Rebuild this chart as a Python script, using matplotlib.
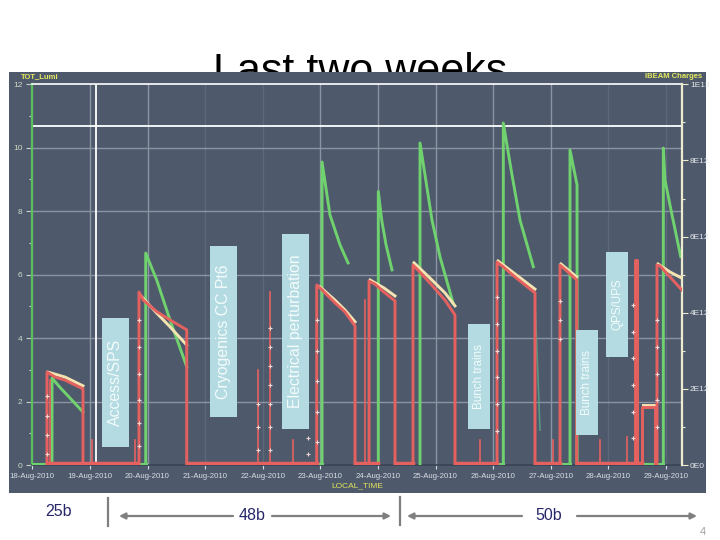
import matplotlib
matplotlib.use('Agg')
import matplotlib.pyplot as plt
from matplotlib.patches import Rectangle, FancyArrowPatch
from matplotlib.lines import Line2D

plt.rcParams['font.family'] = ['Liberation Sans', 'DejaVu Sans']

# ---------------- data ----------------
day_labels = ['18-Aug-2010', '19-Aug-2010', '20-Aug-2010', '21-Aug-2010', '22-Aug-2010',
              '23-Aug-2010', '24-Aug-2010', '25-Aug-2010', '26-Aug-2010', '27-Aug-2010',
              '28-Aug-2010', '29-Aug-2010']
left_ticks = [0, 2, 4, 6, 8, 10, 12]
left_labels = ['0', '2', '4', '6', '8', '10', '12']
right_ticks = [0, 2, 4, 6, 8, 10]          # units of 1E12 charges
right_labels = ['0E0', '2E12', '4E12', '6E12', '8E12', '1E13']

# luminosity (left axis), one list per fill, time in days since 18-Aug 00:00
lumi_t = [[0.342, 0.342, 0.489, 0.655, 0.880],
          [1.969, 1.969, 2.160, 2.391, 2.681],
          [5.030, 5.030, 5.168, 5.342, 5.481],
          [6.007, 6.007, 6.066, 6.141, 6.245],
          [6.731, 6.731, 6.939, 7.078, 7.304],
          [8.177, 8.177, 8.328, 8.467, 8.698],
          [9.335, 9.335, 9.387, 9.457, 9.457],
          [10.955, 10.955, 10.984, 11.106, 11.257]]
lumi_v = [[0, 2.74, 2.43, 2.11, 1.67],
          [0, 6.68, 5.83, 4.57, 3.10],
          [0, 9.55, 7.88, 6.94, 6.37],
          [0, 8.62, 7.72, 6.94, 6.15],
          [0, 10.15, 7.72, 6.56, 5.11],
          [0, 10.78, 9.14, 7.72, 6.25],
          [0, 9.93, 9.46, 8.83, 0],
          [0, 9.99, 8.98, 7.88, 6.57]]
lumi_tail_t = [8.727, 8.814]
lumi_tail_v = [5.20, 1.10]
lumi_base = [(0.012, 0.342), (1.818, 1.969), (4.960, 5.030), (7.998, 8.177),
             (9.214, 9.335), (10.550, 10.955)]

# beam 1 charges (right axis, E12)
b1_t = [[0.255, 0.255, 0.394, 0.568, 0.880, 0.880],
        [1.852, 1.852, 1.927, 2.160, 2.391, 2.681, 2.681],
        [4.938, 4.938, 5.030, 5.255, 5.429, 5.603, 5.603],
        [5.846, 5.846, 5.950, 6.106, 6.297, 6.297],
        [6.609, 6.609, 6.696, 6.904, 7.165, 7.338, 7.338],
        [8.068, 8.068, 8.154, 8.380, 8.727, 8.727],
        [9.161, 9.161, 9.300, 9.451, 9.451],
        [10.464, 10.464, 10.498, 10.498],
        [10.585, 10.585, 10.811, 10.811],
        [10.845, 10.845, 10.898, 11.071, 11.274]]
b1_v = [[0, 2.44, 2.31, 2.23, 2.00, 0],
        [0, 4.54, 4.33, 4.03, 3.81, 3.55, 0],
        [0, 4.73, 4.60, 4.26, 4.02, 3.65, 0],
        [0, 4.83, 4.75, 4.54, 4.31, 0],
        [0, 5.25, 5.12, 4.78, 4.33, 3.94, 0],
        [0, 5.33, 5.23, 4.94, 4.52, 0],
        [0, 5.25, 5.07, 4.86, 0],
        [0, 5.38, 5.38, 0],
        [0, 1.52, 1.52, 0],
        [0, 5.25, 5.23, 4.94, 4.60]]
b1_base = [(0.255, 1.818), (2.681, 4.938), (5.603, 6.000), (6.297, 6.609),
           (7.338, 8.068), (8.727, 9.161), (9.451, 10.585)]
spike_t = [0.307, 1.031, 1.783, 3.918, 4.127, 4.526, 5.776, 7.773, 9.040, 9.855, 10.320]
spike_v = [2.23, 0.66, 0.66, 2.50, 4.54, 0.66, 4.33, 0.66, 0.66, 0.66, 0.74]

# beam 2 charges (right axis, E12)
b2_t = [[0.272, 0.568, 0.880],
        [1.887, 2.160, 2.391, 2.681],
        [4.994, 5.255, 5.429, 5.603],
        [5.864, 6.106, 6.297],
        [6.627, 6.904, 7.165, 7.338],
        [8.085, 8.380, 8.727],
        [9.178, 9.451],
        [10.600, 10.800],
        [10.863, 11.071, 11.274]]
b2_v = [[2.44, 2.31, 2.08],
        [4.44, 3.99, 3.63, 3.15],
        [4.68, 4.33, 4.07, 3.76],
        [4.86, 4.65, 4.44],
        [5.31, 4.91, 4.52, 4.18],
        [5.36, 5.02, 4.62],
        [5.28, 4.94],
        [1.58, 1.58],
        [5.28, 5.07, 4.91]]

# injection markers (right axis, E12)
mark_t = [0.255, 0.255, 0.255, 0.255,
          1.852, 1.852, 1.852, 1.852, 1.852, 1.852,
          3.918, 3.918, 3.918,
          4.127, 4.127, 4.127, 4.127, 4.127, 4.127, 4.127,
          4.786, 4.786,
          4.938, 4.938, 4.938, 4.938, 4.938,
          8.068, 8.068, 8.068, 8.068, 8.068, 8.068,
          9.161, 9.161, 9.161,
          10.430, 10.430, 10.430, 10.430, 10.430, 10.430,
          10.845, 10.845, 10.845, 10.845, 10.845]
mark_v = [0.3, 0.8, 1.3, 1.8,
          0.5, 1.1, 1.7, 2.4, 3.1, 3.8,
          0.4, 1.0, 1.6,
          0.4, 1.0, 1.6, 2.1, 2.6, 3.1, 3.6,
          0.3, 0.7,
          0.6, 1.4, 2.2, 3.0, 3.8,
          0.9, 1.6, 2.3, 3.0, 3.7, 4.4,
          3.3, 3.8, 4.3,
          0.7, 1.4, 2.1, 2.8, 3.5, 4.2,
          1.0, 1.7, 2.4, 3.1, 3.8]

# annotation boxes: label, left px, top px, right px, bottom px, font size
boxes = [('Access/SPS', 102, 318, 129, 447, 11.4),
         ('Cryogenics CC Pt6', 210, 246, 237, 417, 11.4),
         ('Electrical perturbation', 282, 234, 309, 429, 11.4),
         ('Bunch trains', 468, 324, 490, 429, 8.4),
         ('Bunch trains', 576, 330, 598, 435, 8.4),
         ('QPS/UPS', 606, 252, 628, 357, 8.4)]

# ---------------- style ----------------
W, H = 720, 540
panel_col = '#4e5a6c'
green = '#70d26e'
red = '#e5615f'
cream = '#f5e4b2'
grid_light = '#8b94a3'
grid_dark = '#5d697b'
day_grid_col = [None, grid_light, grid_light, grid_dark, grid_dark, grid_light,
                grid_light, grid_light, grid_light, grid_light, grid_dark, grid_dark]

def fx(x):
    return x / W

def fy(y):
    return 1 - y / H

fig = plt.figure(figsize=(7.2, 5.4), dpi=100)
fig.patch.set_facecolor('white')

# title (partly hidden behind the panel)
fig.text(0.5, fy(83), 'Last two weeks', fontsize=31, ha='center', va='baseline',
         color='black', zorder=-2)

# dark panel
fig.add_artist(Rectangle((fx(9), fy(493)), fx(706 - 9), (493 - 72) / H,
                         transform=fig.transFigure, facecolor=panel_col,
                         edgecolor='none', zorder=-1))

ax = fig.add_axes([fx(32.3), fy(465), fx(681.7 - 32.3), (465 - 84.3) / H])
ax.set_facecolor(panel_col)
ax.set_xlim(0, 11.274)
ax.set_ylim(0, 12)

# grid
for k in range(1, 12):
    ax.axvline(k, color=day_grid_col[k], lw=1.0, zorder=1)
for v in [2, 4, 6, 8, 10]:
    ax.axhline(v, color=grid_light, lw=1.0, zorder=1)
# cursor cross-hair
ax.axvline(1.108, color='white', lw=1.3, zorder=1.5)
ax.axhline(10.69, color='white', lw=1.3, zorder=1.5)

# luminosity
for t, v in zip(lumi_t, lumi_v):
    ax.plot(t, v, color=green, lw=2.1, zorder=3, solid_joinstyle='round')
ax.plot(lumi_tail_t, lumi_tail_v, color='#5aa88a', lw=1.2, alpha=0.8, zorder=3)
for a, b in lumi_base:
    ax.plot([a, b], [0.03, 0.03], color=green, lw=2.2, zorder=3)

# spines and ticks (left)
ax.spines['left'].set_color('#5cc05e')
ax.spines['left'].set_linewidth(1.6)
ax.spines['top'].set_color('white')
ax.spines['top'].set_linewidth(1.2)
ax.spines['bottom'].set_color('#3a4454')
ax.spines['bottom'].set_linewidth(1.2)
ax.spines['right'].set_visible(False)
ax.set_yticks(left_ticks)
ax.set_yticklabels(left_labels)
ax.set_yticks([1, 3, 5, 7, 9, 11], minor=True)
ax.tick_params(axis='y', which='major', length=4, width=0.8, color='#c7d3c2',
               labelsize=6, labelcolor='#cfd8c8', pad=3)
ax.tick_params(axis='y', which='minor', length=2, width=0.8, color='#c7d3c2')
ax.set_xticks(list(range(12)))
ax.set_xticklabels(day_labels)
ax.tick_params(axis='x', length=3, width=0.8, color='#d8dde4', labelsize=5.6,
               labelcolor='#d8dde4', pad=3)

# right axis: beam charges
ax2 = ax.twinx()
ax2.set_ylim(0, 10)
ax2.set_xlim(0, 11.274)
for t, v in zip(b2_t, b2_v):
    ax2.plot(t, v, color=cream, lw=2.1, zorder=3, solid_joinstyle='round')
for t, v in zip(b1_t, b1_v):
    ax2.plot(t, v, color=red, lw=2.1, zorder=4, solid_joinstyle='round')
for t, v in zip(spike_t, spike_v):
    ax2.plot([t, t], [0, v], color=red, lw=1.2, zorder=4)
for a, b in b1_base:
    ax2.plot([a, b], [0.04, 0.04], color=red, lw=2.5, zorder=4)
ax2.scatter(mark_t, mark_v, marker='+', s=10, color='#f3d6d6', linewidths=0.8, zorder=5)

for s in ['left', 'top', 'bottom']:
    ax2.spines[s].set_visible(False)
ax2.spines['right'].set_color('#ecebcf')
ax2.spines['right'].set_linewidth(1.6)
ax2.set_yticks(right_ticks)
ax2.set_yticklabels(right_labels)
ax2.set_yticks([1, 3, 5, 7, 9], minor=True)
ax2.tick_params(axis='y', which='major', length=4, width=0.8, color='#ecebcf',
                labelsize=6, labelcolor='#e4e6e8', pad=2)
ax2.tick_params(axis='y', which='minor', length=2, width=0.8, color='#ecebcf')

# axis headers
fig.text(fx(21), fy(77), 'TOT_Lumi', color='#e6e85e', fontsize=5.5,
         fontweight='bold', va='center', ha='left')
fig.text(fx(702), fy(77), 'IBEAM Charges', color='#e6e85e', fontsize=5.5,
         fontweight='bold', va='center', ha='right')
fig.text(fx(357), fy(486), 'LOCAL_TIME', color='#e2e45a', fontsize=6,
         va='center', ha='center')

# annotation boxes
for label, x0, y0, x1, y1, fs in boxes:
    fig.add_artist(Rectangle((fx(x0), fy(y1)), fx(x1 - x0), (y1 - y0) / H,
                             transform=fig.transFigure, facecolor='#b3dbe1',
                             edgecolor='none', zorder=5))
    fig.text(fx((x0 + x1) / 2), fy((y0 + y1) / 2), label, rotation=90,
             ha='center', va='center', fontsize=fs, color='#f4fbfb', zorder=6)

# bottom annotations
navy = '#26266a'
grey = '#7f7f7f'
fig.text(fx(58), fy(512), '25b', fontsize=11.5, color=navy, ha='center', va='center')
fig.text(fx(252), fy(516), '48b', fontsize=11.5, color=navy, ha='center', va='center')
fig.text(fx(549), fy(516), '50b', fontsize=11.5, color=navy, ha='center', va='center')
fig.text(fx(703), fy(532), '4', fontsize=8, color='#a0a0a0', ha='center', va='center')
fig.add_artist(Line2D([fx(108), fx(108)], [fy(498), fy(526)], color=grey, lw=1.6,
                      transform=fig.transFigure))
fig.add_artist(Line2D([fx(400), fx(400)], [fy(497), fy(525)], color=grey, lw=1.6,
                      transform=fig.transFigure))
for (xa, xb) in [(233, 119), (272, 391), (522, 407), (577, 697)]:
    fig.add_artist(FancyArrowPatch((fx(xa), fy(516)), (fx(xb), fy(516)),
                                   transform=fig.transFigure, arrowstyle='-|>',
                                   mutation_scale=9, color=grey, lw=1.6,
                                   shrinkA=0, shrinkB=0))

fig.savefig('out.png', dpi=100, facecolor='white')
